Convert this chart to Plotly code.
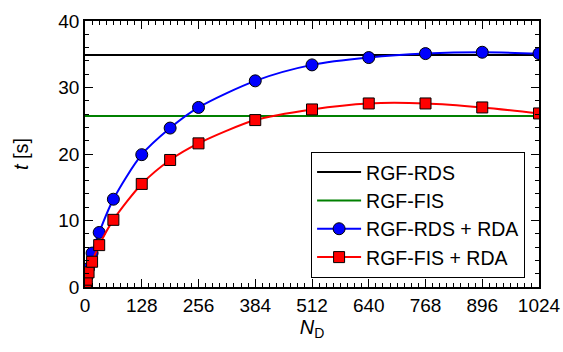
import plotly.graph_objects as go

N_D = [1, 2, 4, 8, 16, 32, 64, 128, 192, 256, 384, 512, 640, 768, 896, 1024]
t_rds_rda = [0.4, 0.8, 1.5, 2.8, 5.1, 8.2, 13.2, 19.9, 23.9, 27.0, 31.0, 33.4, 34.5, 35.1, 35.3, 35.1]
t_fis_rda = [0.3, 0.6, 1.1, 2.2, 3.8, 6.3, 10.1, 15.5, 19.1, 21.6, 25.1, 26.7, 27.6, 27.6, 27.0, 26.1]
t_rds = 34.9
t_fis = 25.7
x_range = [0, 1024]
x_ticks = [0, 128, 256, 384, 512, 640, 768, 896, 1024]

font = "Liberation Sans, Arial, sans-serif"

fig = go.Figure()
fig.add_trace(go.Scatter(x=x_range, y=[t_rds, t_rds], mode="lines",
                         line=dict(color="black", width=2), name="RGF-RDS"))
fig.add_trace(go.Scatter(x=x_range, y=[t_fis, t_fis], mode="lines",
                         line=dict(color="#008000", width=2), name="RGF-FIS"))
fig.add_trace(go.Scatter(x=N_D, y=t_rds_rda, mode="lines+markers",
                         line=dict(color="#0000ff", width=2, shape="spline", smoothing=0.8),
                         marker=dict(symbol="circle", size=12, color="#0000ff",
                                     line=dict(color="black", width=1)),
                         name="RGF-RDS + RDA"))
fig.add_trace(go.Scatter(x=N_D, y=t_fis_rda, mode="lines+markers",
                         line=dict(color="#ff0000", width=2, shape="spline", smoothing=0.8),
                         marker=dict(symbol="square", size=11, color="#ff0000",
                                     line=dict(color="black", width=1)),
                         name="RGF-FIS + RDA"))

axis_common = dict(showline=True, linecolor="black", linewidth=1.5, mirror="allticks",
                   ticks="inside", ticklen=8, tickcolor="black", showgrid=False,
                   zeroline=False, automargin=False,
                   tickfont=dict(family=font, size=19, color="black"))

fig.update_layout(
    width=563, height=352,
    margin=dict(l=85, r=24, t=21, b=65),
    plot_bgcolor="white", paper_bgcolor="white",
    font=dict(family=font, size=19, color="black"),
    xaxis=dict(range=x_range, tickvals=x_ticks,
               minor=dict(dtick=16, ticks="inside", ticklen=4, tickcolor="black"),
               title=dict(text="<i>N</i><sub>D</sub>", standoff=2,
                          font=dict(family=font, size=20)),
               **axis_common),
    yaxis=dict(range=[0, 40], dtick=10,
               minor=dict(dtick=2, ticks="inside", ticklen=4, tickcolor="black"),
               title=dict(text="<i>t</i> [s]", standoff=24,
                          font=dict(family=font, size=20)),
               **axis_common),
    legend=dict(x=0.498, y=0.508, xanchor="left", yanchor="top",
                bordercolor="black", borderwidth=1, bgcolor="white",
                font=dict(family=font, size=19.5), tracegroupgap=0,
                itemwidth=44),
    showlegend=True,
)

fig.write_html("out.html", config={"displayModeBar": False},
               post_script="document.body.style.margin='0';document.body.style.overflow='hidden';")
